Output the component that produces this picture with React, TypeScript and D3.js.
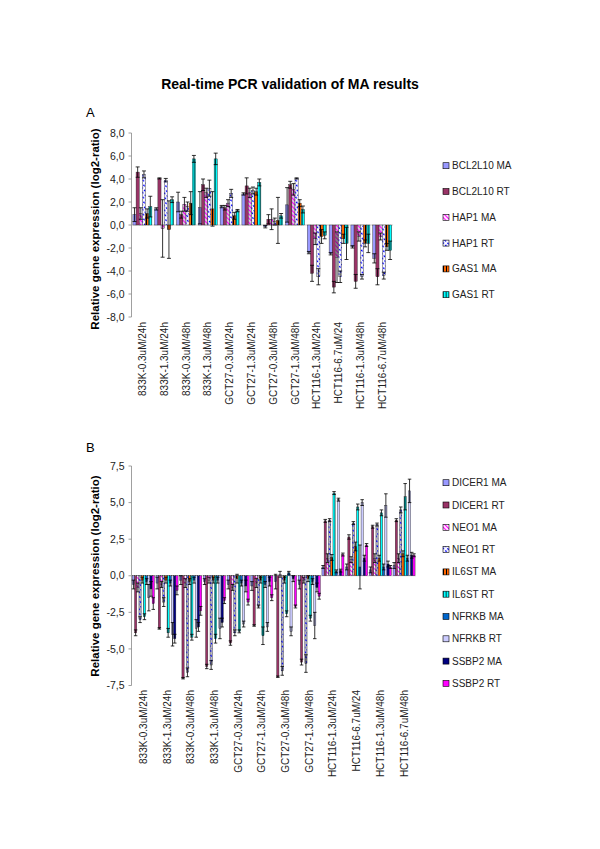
import React from 'react';
import * as d3 from 'd3';

const categories = [
  '833K-0.3uM/24h', '833K-1.3uM/24h', '833K-0.3uM/48h', '833K-1.3uM/48h',
  'GCT27-0.3uM/24h', 'GCT27-1.3uM/24h', 'GCT27-0.3uM/48h', 'GCT27-1.3uM/48h',
  'HCT116-1.3uM/24h', 'HCT116-6.7uM/24', 'HCT116-1.3uM/48h', 'HCT116-6.7uM/48h',
];

const ticksA = [-8, -6, -4, -2, 0, 2, 4, 6, 8];
const ticksB = [-7.5, -5, -2.5, 0, 2.5, 5, 7.5];

// Panel A series
const seriesNamesA = ['BCL2L10 MA', 'BCL2L10 RT', 'HAP1 MA', 'HAP1 RT', 'GAS1 MA', 'GAS1 RT'];
const bcl2l10MA = [0.9, 1.4, 2.0, 1.5, 1.6, 2.7, -0.15, 1.75, -2.4, -2.5, -1.9, -2.9];
const bcl2l10MAErr = [0.6, 0.1, 0.85, 1.4, 0.1, 0.1, 0.1, 1.5, 0.1, 0.1, 0.1, 0.4];
const bcl2l10RT = [4.6, 4.05, 0.9, 3.5, 1.5, 3.4, 0.5, 3.5, -4.2, -5.4, -4.9, -4.5];
const bcl2l10RTErr = [0.45, 0.05, 0.3, 0.5, 0.2, 0.7, 0.4, 0.3, 0.7, 0.5, 0.6, 0.7];
const hap1MA = [1.0, -0.3, 1.8, 2.8, 1.9, 2.8, 0.5, 3.1, -1.2, -2.8, -1.0, -1.0];
const hap1MAErr = [0.5, 2.5, 0.6, 0.4, 0.3, 0.4, 0.9, 0.5, 0.5, 2.2, 0.4, 0.3];
const hap1RT = [4.4, 3.9, 1.6, 3.2, 2.75, 3.0, 0.3, 4.05, -4.5, -4.5, -4.5, -4.4];
const hap1RTErr = [0.3, 0.15, 0.4, 0.7, 0.35, 0.3, 0.3, 0.05, 0.7, 0.5, 0.2, 0.3];
const gas1MA = [1.0, -0.4, 1.9, 1.4, 0.8, 2.9, 0.4, 1.9, -1.0, -1.2, -1.6, -1.9];
const gas1MAErr = [0.4, 2.5, 1.0, 1.5, 0.3, 0.3, 2.0, 0.3, 0.6, 0.4, 0.3, 0.3];
const gas1RT = [1.6, 2.2, 5.75, 5.75, 1.25, 3.7, 0.8, 1.35, -0.9, -1.6, -1.6, -2.2];
const gas1RTErr = [0.9, 0.25, 0.3, 0.5, 0.1, 0.3, 0.2, 0.3, 0.3, 1.4, 0.8, 0.8];

// Panel B series
const seriesNamesB = ['DICER1 MA', 'DICER1 RT', 'NEO1 MA', 'NEO1 RT', 'IL6ST MA', 'IL6ST RT', 'NFRKB MA', 'NFRKB RT', 'SSBP2 MA', 'SSBP2 RT'];
const dicer1MA = [-0.6, -0.5, -0.3, -0.4, -0.6, -0.7, -0.4, -0.6, 0.6, 0.6, 0.4, 0.7];
const dicer1MAErr = [0.3, 0.4, 0.3, 0.2, 0.3, 0.3, 0.5, 0.3, 0.1, 0.2, 0.2, 0.2];
const dicer1RT = [-3.9, -3.6, -7.0, -6.2, -4.6, -3.4, -6.9, -5.9, 3.75, 2.65, 3.35, 3.8];
const dicer1RTErr = [0.2, 0.05, 0.05, 0.15, 0.15, 0.05, 0.05, 0.2, 0.1, 0.15, 0.1, 0.1];
const neo1MA = [-0.8, -0.6, -0.5, -0.3, -0.8, -0.5, 0.1, -0.3, 1.2, 1.1, 1.2, 1.2];
const neo1MAErr = [0.3, 0.2, 0.3, 0.2, 0.2, 0.3, 0.2, 0.2, 0.3, 0.2, 0.3, 0.3];
const neo1RT = [-3.0, -1.8, -6.6, -6.1, -3.9, -2.1, -6.5, -6.0, 3.8, 3.6, 3.5, 4.5];
const neo1RTErr = [0.2, 0.3, 0.3, 0.3, 0.2, 0.1, 0.3, 0.6, 0.1, 0.1, 0.1, 0.2];
const il6stMA = [-0.3, -0.3, -0.4, -0.3, -0.2, -0.3, -0.3, -0.2, 1.25, 2.0, 1.2, 1.5];
const il6stMAErr = [0.2, 0.2, 0.2, 0.2, 0.3, 0.2, 0.2, 0.2, 0.2, 0.3, 0.2, 0.2];
const il6stRT = [-2.8, -3.9, -4.2, -4.3, -3.8, -4.1, -2.6, -2.9, 5.65, 4.7, 4.3, 5.4];
const il6stRTErr = [0.2, 0.3, 0.2, 0.3, 0.1, 0.6, 0.2, 0.2, 0.1, 0.2, 0.2, 0.9];
const nfrkbMA = [-0.4, -0.5, -0.3, -0.3, -0.5, -0.6, 0.2, -0.4, 0.3, 0.6, 0.6, 1.2];
const nfrkbMAErr = [0.2, 0.2, 0.2, 0.2, 0.2, 0.2, 0.1, 0.2, 0.1, 1.5, 0.2, 0.2];
const nfrkbRT = [-1.5, -4.0, -3.6, -3.6, -3.3, -3.5, -3.8, -3.4, 5.2, 5.0, 4.8, 5.8];
const nfrkbRTErr = [0.9, 0.8, 0.6, 0.7, 0.2, 0.3, 0.3, 0.9, 0.1, 0.2, 0.8, 0.8];
const ssbp2MA = [-0.9, -4.3, -3.5, -3.2, -0.7, -0.4, -0.2, -0.8, 0.35, 1.2, 0.8, 1.4];
const ssbp2MAErr = [0.5, 0.3, 0.3, 0.3, 0.4, 0.3, 0.2, 0.3, 0.1, 0.2, 0.2, 0.2];
const ssbp2RT = [-1.9, -1.0, -2.4, -1.7, -1.8, -1.5, -2.1, -1.4, 1.45, 2.1, 0.6, 1.4];
const ssbp2RTErr = [0.4, 0.3, 0.3, 0.2, 0.2, 0.2, 0.1, 0.2, 0.1, 0.1, 0.1, 0.1];

const FONT = "'Liberation Sans', Arial, Helvetica, sans-serif";

type Series = { name: string; values: number[]; errors: number[]; fill: string; legendFill: string };

const seriesA: Series[] = [
  { name: seriesNamesA[0], values: bcl2l10MA, errors: bcl2l10MAErr, fill: '#9999FF', legendFill: '#9999FF' },
  { name: seriesNamesA[1], values: bcl2l10RT, errors: bcl2l10RTErr, fill: '#993366', legendFill: '#993366' },
  { name: seriesNamesA[2], values: hap1MA, errors: hap1MAErr, fill: 'url(#magStripeG)', legendFill: 'url(#magStripeW)' },
  { name: seriesNamesA[3], values: hap1RT, errors: hap1RTErr, fill: 'url(#blueDashW)', legendFill: 'url(#blueDashW)' },
  { name: seriesNamesA[4], values: gas1MA, errors: gas1MAErr, fill: 'url(#orangeV)', legendFill: 'url(#orangeV)' },
  { name: seriesNamesA[5], values: gas1RT, errors: gas1RTErr, fill: 'url(#tealV)', legendFill: 'url(#tealV)' },
];

const seriesB: Series[] = [
  { name: seriesNamesB[0], values: dicer1MA, errors: dicer1MAErr, fill: '#9999FF', legendFill: '#9999FF' },
  { name: seriesNamesB[1], values: dicer1RT, errors: dicer1RTErr, fill: '#993366', legendFill: '#993366' },
  { name: seriesNamesB[2], values: neo1MA, errors: neo1MAErr, fill: 'url(#magStripeW)', legendFill: 'url(#magStripeW)' },
  { name: seriesNamesB[3], values: neo1RT, errors: neo1RTErr, fill: 'url(#blueDashG)', legendFill: 'url(#blueDashW)' },
  { name: seriesNamesB[4], values: il6stMA, errors: il6stMAErr, fill: 'url(#orangeV)', legendFill: 'url(#orangeV)' },
  { name: seriesNamesB[5], values: il6stRT, errors: il6stRTErr, fill: 'url(#tealV)', legendFill: 'url(#tealV)' },
  { name: seriesNamesB[6], values: nfrkbMA, errors: nfrkbMAErr, fill: '#0066CC', legendFill: '#0066CC' },
  { name: seriesNamesB[7], values: nfrkbRT, errors: nfrkbRTErr, fill: '#CCCCFF', legendFill: '#CCCCFF' },
  { name: seriesNamesB[8], values: ssbp2MA, errors: ssbp2MAErr, fill: '#000080', legendFill: '#000080' },
  { name: seriesNamesB[9], values: ssbp2RT, errors: ssbp2RTErr, fill: '#FF00FF', legendFill: '#FF00FF' },
];

const fmt = (v: number) => v.toFixed(1).replace('.', ',');

type PanelProps = {
  series: Series[];
  domain: [number, number];
  yRange: [number, number];
  xStart: number;
  step: number;
  innerPad: number;
  ticks: number[];
  legendTop: number;
  legendStep: number;
  yLabelCenter: number;
  letter: string;
  letterY: number;
  capW: number;
  labelTop: number;
};

function Panel(p: PanelProps) {
  const n = categories.length;
  const x = d3
    .scaleBand<string>()
    .domain(categories)
    .range([p.xStart, p.xStart + p.step * n])
    .paddingInner(p.innerPad)
    .paddingOuter(p.innerPad / 2);
  const xs = d3
    .scaleBand<string>()
    .domain(p.series.map((s) => s.name))
    .range([0, x.bandwidth()]);
  const y = d3.scaleLinear().domain(p.domain).range(p.yRange);
  const y0 = y(0);
  const bw = xs.bandwidth();
  return (
    <g>
      <text x={86} y={p.letterY} fontSize={13} fontFamily={FONT}>
        {p.letter}
      </text>
      <line x1={p.xStart} x2={p.xStart} y1={p.yRange[1]} y2={p.yRange[0]} stroke="#888" strokeWidth={0.8} />
      {p.ticks.map((t) => (
        <g key={t}>
          <line x1={p.xStart - 3} x2={p.xStart} y1={y(t)} y2={y(t)} stroke="#888" strokeWidth={0.8} />
          <text x={p.xStart - 7} y={y(t)} dy="0.35em" textAnchor="end" fontSize={10.5} fontFamily={FONT} fill="#222">
            {fmt(t)}
          </text>
        </g>
      ))}
      <line x1={p.xStart} x2={p.xStart + p.step * n} y1={y0} y2={y0} stroke="#b0b0b0" strokeWidth={0.6} />
      {p.series.map((s) => (
        <g key={s.name}>
          {s.values.map((v, i) => {
            const cx = (x(categories[i]) as number) + (xs(s.name) as number);
            return (
              <rect
                key={i}
                x={cx}
                y={Math.min(y(v), y0)}
                width={bw}
                height={Math.abs(y(v) - y0)}
                fill={s.fill}
                stroke="#222"
                strokeWidth={0.4}
              />
            );
          })}
        </g>
      ))}
      {p.series.map((s) => (
        <g key={s.name + '-err'} stroke="#000" strokeWidth={0.8}>
          {s.values.map((v, i) => {
            const cx = (x(categories[i]) as number) + (xs(s.name) as number) + bw / 2;
            const e = s.errors[i];
            const yt = y(v + e);
            const yb = y(v - e);
            return (
              <g key={i}>
                <line x1={cx} x2={cx} y1={yt} y2={yb} />
                <line x1={cx - p.capW / 2} x2={cx + p.capW / 2} y1={yt} y2={yt} />
                <line x1={cx - p.capW / 2} x2={cx + p.capW / 2} y1={yb} y2={yb} />
              </g>
            );
          })}
        </g>
      ))}
      {categories.map((c) => {
        const cx = (x(c) as number) + x.bandwidth() / 2;
        return (
          <text
            key={c}
            x={cx}
            y={p.labelTop}
            dy="0.35em"
            textAnchor="end"
            fontSize={10}
            fontFamily={FONT}
            fill="#222"
            transform={`rotate(-90, ${cx}, ${p.labelTop})`}
          >
            {c}
          </text>
        );
      })}
      <text
        x={99}
        y={p.yLabelCenter}
        textAnchor="middle"
        fontSize={11.5}
        fontWeight="bold"
        fontFamily={FONT}
        transform={`rotate(-90, 99, ${p.yLabelCenter})`}
      >
        Relative gene expression (log2-ratio)
      </text>
      {p.series.map((s, i) => {
        const ly = p.legendTop + i * p.legendStep;
        return (
          <g key={s.name + '-leg'}>
            <rect x={443} y={ly - 3} width={6} height={6} fill={s.legendFill} stroke="#000" strokeWidth={0.6} />
            <text x={452} y={ly} dy="0.35em" fontSize={10} fontFamily={FONT} fill="#222">
              {s.name}
            </text>
          </g>
        );
      })}
    </g>
  );
}

export default function App() {
  return (
    <svg
      width={600}
      height={849}
      style={{ position: 'absolute', left: 0, top: 0, background: '#fff' }}
      fontFamily={FONT}
    >
      <defs>
        <pattern id="magStripeW" patternUnits="userSpaceOnUse" width="3" height="3" patternTransform="rotate(-45)">
          <rect width="3" height="3" fill="#fff" />
          <rect width="1.2" height="3" fill="#FF00FF" />
        </pattern>
        <pattern id="magStripeG" patternUnits="userSpaceOnUse" width="3" height="3" patternTransform="rotate(-45)">
          <rect width="3" height="3" fill="#d8d8d8" />
          <rect width="1.2" height="3" fill="#FF00FF" />
        </pattern>
        <pattern id="blueDashW" patternUnits="userSpaceOnUse" width="3" height="4" patternTransform="rotate(-45)">
          <rect width="3" height="4" fill="#fff" />
          <rect width="1.3" height="2.2" fill="#0000FF" />
        </pattern>
        <pattern id="blueDashG" patternUnits="userSpaceOnUse" width="3" height="4" patternTransform="rotate(-45)">
          <rect width="3" height="4" fill="#c0c0c0" />
          <rect width="1.3" height="2.2" fill="#0000FF" />
        </pattern>
        <pattern id="orangeV" patternUnits="userSpaceOnUse" width="3" height="3">
          <rect width="3" height="3" fill="#FF6600" />
          <rect x="2" width="1" height="3" fill="#000" />
        </pattern>
        <pattern id="tealV" patternUnits="userSpaceOnUse" width="3" height="3">
          <rect width="3" height="3" fill="#00FFFF" />
          <rect x="1.5" width="1.5" height="3" fill="#008080" />
        </pattern>
      </defs>
      <text x={290} y={89} textAnchor="middle" fontSize={14} fontWeight="bold" fontFamily={FONT}>
        Real-time PCR validation of MA results
      </text>
      <Panel
        series={seriesA}
        domain={[-8, 8]}
        yRange={[317, 133]}
        xStart={131.5}
        step={21.8}
        innerPad={0.13}
        ticks={ticksA}
        legendTop={165.7}
        legendStep={25.8}
        yLabelCenter={229}
        letter="A"
        letterY={117}
        capW={4}
        labelTop={322}
      />
      <Panel
        series={seriesB}
        domain={[-7.5, 7.5]}
        yRange={[685.5, 466]}
        xStart={131.5}
        step={23.7}
        innerPad={0.07}
        ticks={ticksB}
        legendTop={482.7}
        legendStep={22.3}
        yLabelCenter={576}
        letter="B"
        letterY={452}
        capW={3.5}
        labelTop={690}
      />
    </svg>
  );
}
